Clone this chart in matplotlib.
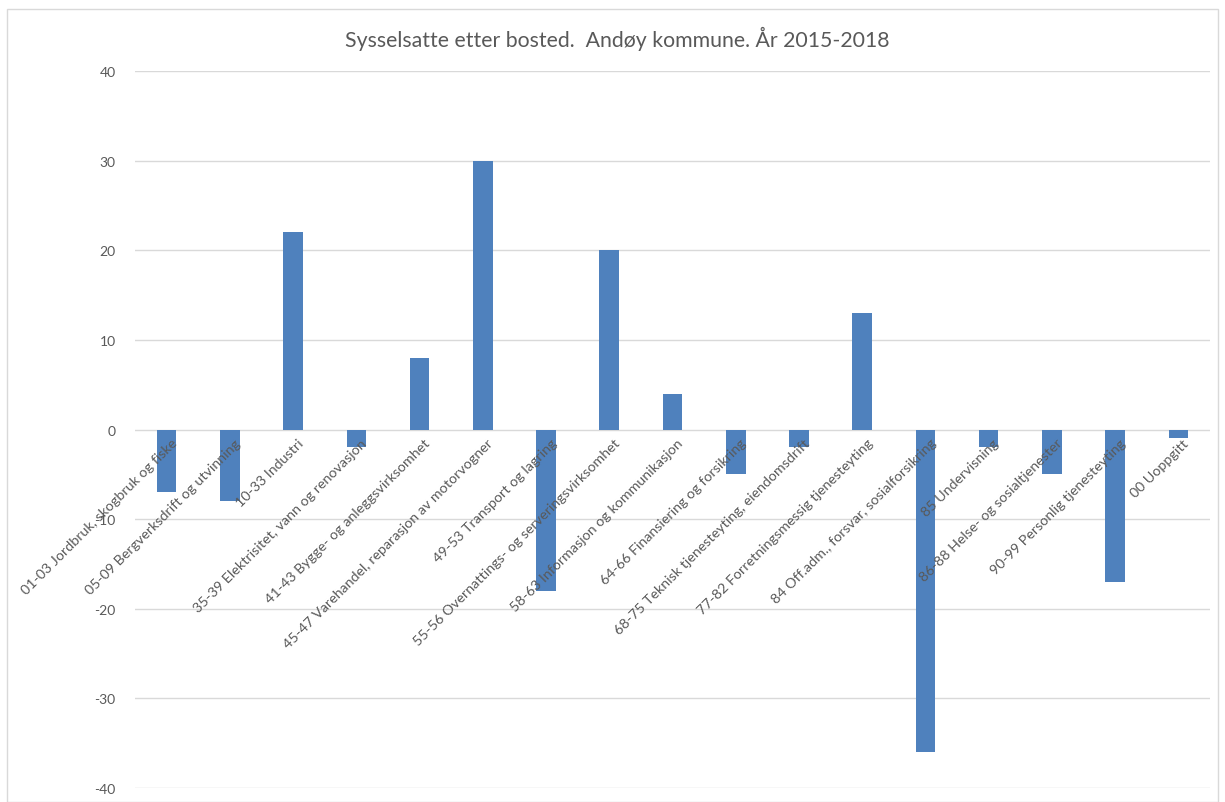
import matplotlib.pyplot as plt
from matplotlib.patches import Rectangle

categories = [
    '01-03 Jordbruk, skogbruk og fiske',
    '05-09 Bergverksdrift og utvinning',
    '10-33 Industri',
    '35-39 Elektrisitet, vann og renovasjon',
    '41-43 Bygge- og anleggsvirksomhet',
    '45-47 Varehandel, reparasjon av motorvogner',
    '49-53 Transport og lagring',
    '55-56 Overnattings- og serveringsvirksomhet',
    '58-63 Informasjon og kommunikasjon',
    '64-66 Finansiering og forsikring',
    '68-75 Teknisk tjenesteyting, eiendomsdrift',
    '77-82 Forretningsmessig tjenesteyting',
    '84 Off.adm., forsvar, sosialforsikring',
    '85 Undervisning',
    '86-88 Helse- og sosialtjenester',
    '90-99 Personlig tjenesteyting',
    '00 Uoppgitt',
]
values = [-7, -8, 22, -2, 8, 30, -18, 20, 4, -5, -2, 13, -36, -2, -5, -17, -1]
yticks = [-40, -30, -20, -10, 0, 10, 20, 30, 40]
title = 'Sysselsatte etter bosted.  Andøy kommune. År 2015-2018'

plt.rcParams['font.family'] = ['Lato', 'DejaVu Sans']
text_col = '#595959'
grid_col = '#d9d9d9'

fig = plt.figure(figsize=(12.25, 8.03), dpi=100)
fig.patches.append(Rectangle((7 / 1225, 0), 1 - 14 / 1225, 1 - 10 / 803,
                             transform=fig.transFigure, fill=False,
                             edgecolor=grid_col, linewidth=1))
ax = fig.add_axes([135 / 1225, 1 - 789 / 803, 1075 / 1225, (789 - 72) / 803])

x = list(range(len(categories)))
ax.bar(x, values, width=0.31, color='#4f81bd', zorder=3)
ax.set_xlim(-0.5, len(categories) - 0.5)
ax.set_ylim(-40, 40)
ax.set_yticks(yticks)
ax.set_yticklabels([str(v) for v in yticks], color=text_col, fontsize=10)
ax.tick_params(axis='y', length=0, pad=14)
ax.set_xticks([])
for s in ax.spines.values():
    s.set_visible(False)
for v in yticks:
    ax.axhline(v, color=grid_col, linewidth=1, zorder=1)

for i, lab in enumerate(categories):
    ax.annotate(lab, xy=(i, 0), xytext=(3, -5), textcoords='offset points',
                rotation=45, rotation_mode='anchor', ha='right', va='top',
                fontsize=10.3, color=text_col, zorder=4)

fig.text(617 / 1225, 1 - 39 / 803, title, ha='center', va='center',
         fontsize=15.3, color=text_col)

fig.savefig('out.png', dpi=100)
